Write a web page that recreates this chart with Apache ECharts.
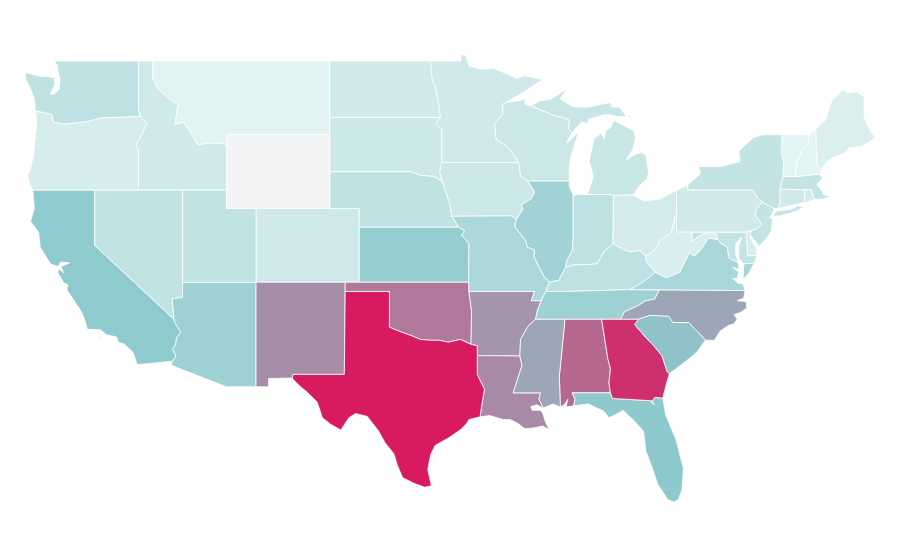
<!DOCTYPE html>
<html>
<head>
<meta charset="utf-8">
<script src="https://cdn.jsdelivr.net/npm/echarts@6/dist/echarts.min.js"></script>
<style>html,body{margin:0;padding:0;background:#fff}#main{width:900px;height:560px}</style>
</head>
<body>
<div id="main"></div>
<script>
var states = ['Alabama','Arizona','Arkansas','California','Colorado','Connecticut','Delaware','District of Columbia','Florida','Georgia','Idaho','Illinois','Indiana','Iowa','Kansas','Kentucky','Louisiana','Maine','Maryland','Massachusetts','Michigan','Minnesota','Mississippi','Missouri','Montana','Nebraska','Nevada','New Hampshire','New Jersey','New Mexico','New York','North Carolina','North Dakota','Ohio','Oklahoma','Oregon','Pennsylvania','Rhode Island','South Carolina','South Dakota','Tennessee','Texas','Utah','Vermont','Virginia','Washington','West Virginia','Wisconsin','Wyoming'];
// Wyoming has no value, it keeps the default fill
var values = [78,41,65,49,14,13,10,12,50,94,13,39,23,15,45,23,68,7,20,20,17,13,60,33,3,22,21,2,20,67,20,60,13,11,73,10,13,10,52,15,41,100,21,2,35,23,8,16,null];
var rampColors = ['#e8f5f5','#8dc9cd','#d81b60'];
var noDataColor = '#f3f4f6';

// shared borders, lon/lat
var columbia = [[-124,46.25],[-123.4,46.2],[-122.9,46.1],[-122.8,45.7],[-122.2,45.58],[-121.2,45.65],[-120.5,45.72],[-119.6,45.92],[-119,45.93],[-116.92,46]];
var snake = [[-116.92,46],[-116.47,45.6],[-116.85,44.95],[-117.22,44.4],[-117.03,44.25],[-117.03,42]];
var coloradoRiver = [[-114.63,35],[-114.57,34.8],[-114.15,34.27],[-114.43,34.05],[-114.53,33.6],[-114.72,33.4],[-114.5,33],[-114.72,32.72]];
var idMt = [[-116.05,48],[-115.7,47.5],[-115,47],[-114.35,46.65],[-114.55,45.57],[-113.95,45.7],[-113.45,45.05],[-113,44.45],[-112.3,44.55],[-111.5,44.55],[-111.05,44.48]];
var ndMn = [[-97.23,49],[-97.1,48],[-96.85,47.5],[-96.6,46.35],[-96.56,45.94]];
var sdMn = [[-96.56,45.94],[-96.85,45.6],[-96.45,45.3],[-96.45,43.5]];
var sdIa = [[-96.45,43.5],[-96.6,43],[-96.45,42.49]];
var sdNe = [[-98.5,43],[-97.9,42.8],[-97,42.75],[-96.45,42.49]];
var neIa = [[-96.45,42.49],[-96.1,41.7],[-95.9,41.2],[-95.77,40.58]];
var neMo = [[-95.77,40.58],[-95.31,40]];
var ksMo = [[-95.31,40],[-94.9,39.8],[-95.1,39.55],[-94.6,39.1],[-94.62,37]];
var redRiver = [[-100,34.56],[-99.2,34.3],[-98.5,34.1],[-97.9,33.9],[-97.2,33.85],[-96.6,33.85],[-96,33.75],[-95.2,33.9],[-94.48,33.64]];
var sabine = [[-94.04,31.99],[-93.55,31.2],[-93.7,30.5],[-93.85,29.7]];
var mnWi = [[-92.1,46.75],[-92.3,46.66],[-92.3,46.1],[-92.85,45.6],[-92.75,44.75],[-91.9,44.3],[-91.22,43.5]];
var iaWi = [[-91.22,43.5],[-91.1,42.75],[-90.64,42.5]];
var iaIl = [[-90.64,42.5],[-90.15,41.9],[-90.35,41.55],[-91.05,41.2],[-90.95,40.95],[-91.4,40.4]];
var moIl = [[-91.4,40.4],[-91.5,40],[-90.75,39.25],[-90.65,38.9],[-90.15,38.75],[-90.2,38.4],[-89.9,37.9],[-89.5,37.3],[-89.15,37]];
var arTn = [[-89.7,36],[-89.95,35.5],[-90.08,35]];
var arMs = [[-90.08,35],[-90.6,34.6],[-91.1,33.9],[-91.15,33]];
var laMs = [[-91.15,33],[-91,32.5],[-91.6,31],[-89.75,31],[-89.85,30.65],[-89.55,30.18]];
var ohioKyIl = [[-89.15,37],[-88.5,37.1],[-88.05,37.8]];
var ohioKyIn = [[-88.05,37.8],[-87.5,37.95],[-86.5,37.95],[-85.9,38],[-85.4,38.7],[-84.82,39.1]];
var ohioKyOh = [[-84.82,39.1],[-84.2,38.8],[-83.7,38.65],[-83,38.73],[-82.6,38.4]];
var ohioWvOh = [[-82.6,38.4],[-82.2,38.6],[-81.75,39],[-81.7,39.25],[-80.87,39.7],[-80.6,40.6]];
var kyWv = [[-82.6,38.4],[-82.6,38.17],[-81.97,37.54]];
var kyVa = [[-81.97,37.54],[-82.3,37.3],[-82.9,36.95],[-83.67,36.6]];
var wvVa = [[-77.72,39.32],[-78.35,39.4],[-78.87,38.77],[-79.3,38.42],[-79.65,38.6],[-80.3,37.55],[-81.2,37.25],[-81.97,37.54]];
var wvMd = [[-79.48,39.2],[-79.05,39.47],[-78.75,39.6],[-78.2,39.68],[-77.83,39.6],[-77.72,39.32]];
var potomac = [[-77.72,39.32],[-77.5,39.1],[-77.12,38.93],[-77.05,38.85],[-77.05,38.7],[-76.95,38.3],[-76.32,38.05]];
var ilIn = [[-87.53,41.72],[-87.53,39.35],[-87.6,38.7],[-87.95,38.2],[-88.05,37.8]];
var wiMi = [[-87.6,45.1],[-87.85,45.35],[-87.8,45.8],[-88.1,45.9],[-88.7,46],[-89.1,46.13],[-90.42,46.57]];
var tnNc = [[-84.32,35],[-84.05,35.4],[-83.1,35.75],[-82.6,36],[-82,36.1],[-81.68,36.59]];
var ncSc = [[-83.1,35],[-82.3,35.2],[-81.05,35.15],[-80.78,34.82],[-79.67,34.8],[-78.55,33.86]];
var gaSc = [[-83.1,35],[-83.35,34.7],[-82.6,34],[-82,33.5],[-81.5,33],[-81.15,32.15],[-81,32.05]];
var gaAl = [[-85.6,35],[-85.18,32.87],[-85,32.3],[-85.1,31.55],[-85,31]];
var gaFl = [[-85,31],[-84.86,30.7],[-82.2,30.57],[-82.05,30.36],[-82.2,30.5],[-82,30.75],[-81.45,30.72]];
var alMs = [[-88.2,35],[-88.1,34.9],[-88.47,31.9],[-88.4,30.23]];
var alFl = [[-87.6,31],[-87.4,30.65],[-87.5,30.3]];
var nyPa = [[-74.7,41.36],[-75.05,41.6],[-75.35,42],[-79.76,42],[-79.76,42.27]];
var njPa = [[-74.7,41.36],[-75.1,40.95],[-75.2,40.65],[-74.73,40.15],[-75.1,39.9],[-75.4,39.8]];
var vtNh = [[-71.5,45],[-71.6,44.5],[-72.05,44.1],[-72.4,43.4],[-72.46,42.73]];
var nhMe = [[-71.08,45.3],[-70.98,43.4],[-70.7,43.07]];

function rev(line) { return line.slice().reverse(); }
function ring() {
    var pts = [];
    for (var i = 0; i < arguments.length; i++) pts = pts.concat(arguments[i]);
    pts.push(pts[0]);
    return pts;
}

var outlines = {
    'Washington': [ring([[-117.04,49],[-122.76,49],[-122.5,48.75],[-122.5,48.45],[-122.35,48],[-122.4,47.5],[-122.75,47.2],[-123,47.2],[-122.95,47.35],[-122.7,47.7],[-122.75,48.1],[-123.15,48.15],[-123.7,48.17],[-124.73,48.38],[-124.65,47.95],[-124.35,47.5],[-124.1,46.95],[-124.05,46.65],[-124.05,46.3]],columbia,[[-117.04,46.4]])],
    'Oregon': [ring(columbia,snake,[[-124.2,42],[-124.4,42.3],[-124.55,42.84],[-124.4,43],[-124.15,43.9],[-124.07,44.6],[-123.95,45.5]])],
    'California': [ring([[-124.2,42],[-120,42],[-120,39]],coloradoRiver,[[-117.12,32.53],[-117.25,32.85],[-117.4,33.2],[-118,33.65],[-118.4,33.75],[-118.5,34.03],[-119.2,34.15],[-119.6,34.42],[-120.5,34.45],[-120.65,34.9],[-120.9,35.4],[-121.9,36.6],[-121.8,36.85],[-122.1,36.97],[-122.5,37.5],[-122.45,37.75],[-122.1,37.5],[-122.3,37.85],[-121.7,38.05],[-122.3,38.1],[-122.5,37.85],[-123,38],[-123.7,38.9],[-123.8,39.7],[-124.35,40.3],[-124.1,41]]),
        ring([[-119.9,33.98],[-119.55,34.02],[-119.6,33.95]]),ring([[-118.6,33.47],[-118.35,33.35],[-118.45,33.33]])],
    'Nevada': [ring([[-120,42],[-114.04,42],[-114.04,36.2],[-114.75,36.1],[-114.63,35],[-120,39]])],
    'Utah': [ring([[-114.04,42],[-111.05,42],[-111.05,41],[-109.05,41],[-109.05,37],[-114.04,37]])],
    'Arizona': [ring([[-114.04,37],[-109.05,37],[-109.05,31.33],[-111.07,31.33],[-114.82,32.5]],rev(coloradoRiver),[[-114.75,36.1],[-114.04,36.2]])],
    'Idaho': [ring([[-117.04,49],[-116.05,49]],idMt,[[-111.05,42]],rev(snake),[[-117.04,46.4]])],
    'Montana': [ring([[-116.05,49],[-104.05,49],[-104.05,45],[-111.05,45]],rev(idMt))],
    'Wyoming': [ring([[-111.05,45],[-104.05,45],[-104.05,41],[-111.05,41]])],
    'Colorado': [ring([[-109.05,41],[-102.05,41],[-102.05,37],[-109.05,37]])],
    'North Dakota': [ring([[-104.05,49]],ndMn,[[-104.05,45.94]])],
    'South Dakota': [ring([[-104.05,45.94]],sdMn,sdIa,rev(sdNe),[[-104.05,43]])],
    'Nebraska': [ring([[-104.05,43]],sdNe,neIa,neMo,[[-102.05,40],[-102.05,41],[-104.05,41]])],
    'Kansas': [ring([[-102.05,40]],ksMo,[[-102.05,37]])],
    'Oklahoma': [ring([[-103,37],[-94.62,37],[-94.62,36.5],[-94.43,35.4]],rev(redRiver),[[-100,36.5],[-103,36.5]])],
    'Texas': [ring([[-103,36.5],[-100,36.5]],redRiver,[[-94.04,33.55],[-94.04,33.02]],sabine,[[-94.6,29.55],[-94.75,29.35],[-95.1,29.05],[-95.9,28.6],[-96.45,28.35],[-96.9,28.15],[-97.2,27.65],[-97.4,26.85],[-97.15,25.96],[-97.6,25.88],[-98.3,26.08],[-99.1,26.4],[-99.45,27.05],[-99.7,27.7],[-100.3,28.3],[-100.75,28.95],[-101.5,29.72],[-102.3,29.88],[-102.75,29.65],[-103.3,28.98],[-104,29.3],[-104.55,29.65],[-104.9,30.5],[-105.6,31.05],[-106.2,31.45],[-106.6,31.8],[-106.53,32],[-103.06,32]])],
    'New Mexico': [ring([[-109.05,37],[-103,37],[-103,36.5],[-103.06,32],[-106.53,32],[-106.6,31.8],[-108.2,31.78],[-108.2,31.33],[-109.05,31.33]])],
    'Minnesota': [ring([[-97.23,49],[-95.15,49],[-95.15,49.38],[-94.8,49.3],[-94.6,48.72],[-93.8,48.55],[-92.95,48.6],[-92,48.3],[-91.4,48.07],[-90.8,48.2],[-89.6,48],[-90.9,47.3]],mnWi,rev(sdMn),rev(ndMn))],
    'Iowa': [ring([[-96.45,43.5]],iaWi,iaIl,[[-91.73,40.6]],rev(neIa),rev(sdIa))],
    'Missouri': [ring([[-95.77,40.58],[-91.73,40.6]],moIl,[[-89.4,36.5],[-89.7,36],[-90.37,36],[-90.15,36.5],[-94.62,36.5]],rev(ksMo),rev(neMo))],
    'Arkansas': [ring([[-94.62,36.5],[-90.15,36.5],[-90.37,36]],arTn,arMs,[[-94.04,33.02],[-94.04,33.55],[-94.48,33.64],[-94.43,35.4]])],
    'Louisiana': [ring([[-94.04,33.02]],laMs,[[-90,30.35],[-90.4,30.25],[-90.3,30.05],[-89.75,30.05],[-89.6,29.9],[-89.4,29.4],[-89.15,29],[-89.6,29.2],[-90.2,29.1],[-90.8,29.05],[-91.3,29.35],[-91.8,29.55],[-92.3,29.55],[-93.2,29.77]],rev(sabine))],
    'Mississippi': [ring([[-90.08,35]],alMs,[[-88.9,30.4]],rev(laMs),rev(arMs))],
    'Tennessee': [ring([[-90.08,35],[-88.2,35],[-85.6,35]],tnNc,[[-83.67,36.6],[-88.05,36.5],[-89.4,36.5]],arTn)],
    'Kentucky': [ring([[-89.4,36.5]],ohioKyIl,ohioKyIn,ohioKyOh,kyWv,kyVa,[[-88.05,36.5]])],
    'Illinois': [ring([[-90.64,42.5],[-87.8,42.5],[-87.8,42.2]],ilIn,rev(ohioKyIl),rev(moIl),rev(iaIl))],
    'Indiana': [ring([[-87.53,41.72],[-87.2,41.75],[-86.8,41.76],[-84.8,41.76]],rev(ohioKyIn),rev(ilIn))],
    'Ohio': [ring([[-84.8,41.7],[-83.45,41.73],[-82.7,41.4],[-81.7,41.5],[-80.52,41.98],[-80.52,40.64]],rev(ohioWvOh),rev(ohioKyOh))],
    'Michigan': [ring([[-86.8,41.76],[-84.8,41.76],[-84.8,41.7],[-83.45,41.73],[-83.15,42.1],[-82.9,42.35],[-82.5,42.6],[-82.42,43],[-82.6,43.9],[-82.95,44.05],[-83.4,43.9],[-83.9,43.65],[-83.5,44.2],[-83.3,44.8],[-83.4,45.2],[-84.1,45.5],[-84.75,45.78],[-85,45.4],[-85.3,45.25],[-85.45,44.75],[-85.6,45.1],[-86.1,44.8],[-86.45,43.6],[-86.15,42.7],[-86.55,41.8]]),
        ring([[-90.42,46.57],[-89.8,46.83],[-89,46.95],[-88,47.47],[-88.4,46.95],[-87.6,46.55],[-87.4,46.5],[-86.5,46.5],[-85,46.75],[-84.9,46.5],[-84.4,46.5],[-84.1,46.2],[-83.9,45.98],[-84.7,46],[-85,46.08],[-85.5,46.08],[-86,45.95],[-86.5,45.85],[-86.55,45.6],[-86.95,45.7],[-87.3,45.4]],wiMi),
        ring([[-89.2,47.88],[-88.55,48.15],[-88.9,48]]),ring([[-83.85,46.05],[-83.5,46],[-83.8,45.95]])],
    'Wisconsin': [ring(mnWi,iaWi,[[-87.8,42.5],[-87.8,43.2],[-87.7,43.8],[-87.5,44.3],[-87.15,45.2],[-87.75,44.7],[-88,44.55],[-87.7,45]],wiMi,[[-90.8,46.65],[-90.8,46.95],[-91.2,46.85]])],
    'West Virginia': [ring(ohioWvOh,[[-80.52,40.64],[-80.52,39.72],[-79.48,39.72]],wvMd,wvVa,rev(kyWv))],
    'Virginia': [ring([[-83.67,36.6],[-81.68,36.59],[-75.87,36.55],[-76,36.92],[-76.35,36.95],[-76.7,37.2],[-76.4,37.2],[-76.3,37.55],[-76.7,37.8],[-76.3,37.7],[-76.3,37.9]],rev(potomac),wvVa,kyVa),
        ring([[-76,37.15],[-75.95,38],[-75.25,38.03],[-75.6,37.5]])],
    'Maryland': [ring([[-79.48,39.72],[-75.79,39.72],[-75.7,38.46],[-75.05,38.45],[-75.25,38.03],[-75.95,38],[-76.3,38.3],[-76.3,38.9],[-76.1,39.45],[-76.5,39.1],[-76.5,38.5],[-76.4,38.3]],rev(potomac),rev(wvMd))],
    'Delaware': [ring([[-75.79,39.72],[-75.4,39.8],[-75.55,39.45],[-75.1,38.8],[-75.05,38.45],[-75.7,38.46]])],
    'District of Columbia': [ring([[-77.12,38.93],[-77.04,39],[-76.91,38.89],[-77.05,38.8]])],
    'Pennsylvania': [ring([[-80.52,41.98]],rev(nyPa),njPa,[[-75.79,39.72],[-80.52,39.72]])],
    'New Jersey': [ring(njPa,[[-75.55,39.6],[-75.2,39.25],[-74.9,38.95],[-74.4,39.4],[-74.1,39.75],[-74,40.45],[-74.25,40.5],[-74.05,40.65],[-73.9,41]])],
    'New York': [ring(nyPa,[[-78.95,42.85],[-78.9,43],[-79.05,43.27],[-77.5,43.27],[-76.2,43.55],[-76.3,44.1],[-75.3,44.85],[-74.7,45],[-73.35,45],[-73.4,44],[-73.25,43.55],[-73.28,42.75],[-73.5,42.05],[-73.5,41.3],[-73.65,41],[-73.9,41]]),
        ring([[-74,40.6],[-73.75,40.85],[-72.65,40.98],[-72.3,41.15],[-71.87,41.07],[-72.5,40.82],[-73.6,40.58]])],
    'Vermont': [ring([[-73.35,45]],vtNh,[[-73.28,42.75],[-73.25,43.55],[-73.4,44]])],
    'New Hampshire': [ring([[-71.5,45],[-71.08,45.3]],nhMe.slice(1),[[-70.82,42.87]],rev(vtNh))],
    'Maine': [ring(nhMe,[[-70.3,43.55],[-69.8,43.8],[-69.1,44],[-68.8,44.3],[-68,44.35],[-67,44.82],[-67.45,45.3],[-67.78,45.9],[-67.8,47.07],[-68.3,47.32],[-68.9,47.25],[-69.23,47.46],[-70,46.8],[-70.25,46.2],[-70.4,45.8]])],
    'Massachusetts': [ring([[-73.5,42.05],[-73.28,42.75],[-72.46,42.73],[-70.82,42.87],[-70.6,42.65],[-71,42.3],[-70.65,41.95],[-70.55,41.75],[-70.05,41.65],[-70.6,41.5],[-71.15,41.5],[-71.38,42.02],[-71.8,42.02]])],
    'Rhode Island': [ring([[-71.8,42.02],[-71.38,42.02],[-71.15,41.5],[-71.5,41.37],[-71.85,41.32]])],
    'Connecticut': [ring([[-73.5,42.05],[-71.8,42.02],[-71.85,41.32],[-73.65,41],[-73.5,41.3]])],
    'North Carolina': [ring(tnNc,[[-75.87,36.55],[-75.95,36.15],[-76.4,36],[-75.8,35.95],[-75.75,35.6],[-76.2,35.35],[-76.6,35.25],[-76.4,35],[-76.6,34.75],[-77,34.65],[-77.55,34.35],[-77.95,33.85]],rev(ncSc))],
    'South Carolina': [ring(ncSc,[[-79.15,33.2],[-79.9,32.7],[-80.65,32.25]],rev(gaSc))],
    'Georgia': [ring([[-85.6,35],[-84.32,35]],gaSc,[[-81.2,31.5]],rev(gaFl),rev(gaAl))],
    'Alabama': [ring([[-88.2,35]],gaAl,alFl,[[-88,30.23],[-87.9,30.65],[-88.15,30.35]],rev(alMs))],
    'Florida': [ring(rev(alFl),gaFl,[[-81.25,29.8],[-80.55,28.45],[-80.05,26.9],[-80.15,25.75],[-80.4,25.2],[-80.7,25.08],[-81.1,25.2],[-81.8,26.05],[-82.15,26.9],[-82.6,27.85],[-82.75,28.9],[-83.4,29.5],[-84.15,30.05],[-84.35,29.95],[-85.1,29.65],[-85.45,30],[-86.5,30.4]])]
};

var features = [];
for (var i = 0; i < states.length; i++) {
    var rings = outlines[states[i]];
    features.push({
        type: 'Feature',
        properties: {name: states[i]},
        geometry: {type: 'MultiPolygon', coordinates: rings.map(function (r) { return [r]; })}
    });
}
echarts.registerMap('usa', {type: 'FeatureCollection', features: features});

var seriesData = [];
for (var i = 0; i < states.length; i++) {
    seriesData.push({name: states[i], value: values[i]});
}

var myChart = echarts.init(document.getElementById('main'));
myChart.setOption({
    animation: false,
    backgroundColor: '#fff',
    visualMap: {
        show: false,
        min: 0,
        max: 100,
        inRange: {color: rampColors}
    },
    series: [{
        type: 'map',
        map: 'usa',
        aspectScale: 0.8,
        boundingCoords: [[-124.73, 49.38], [-66.98, 25.08]],
        left: 25,
        top: 54,
        width: 851,
        height: 448,
        silent: true,
        label: {show: false},
        itemStyle: {areaColor: noDataColor, borderColor: '#fff', borderWidth: 0.8},
        data: seriesData
    }]
});
</script>
</body>
</html>
